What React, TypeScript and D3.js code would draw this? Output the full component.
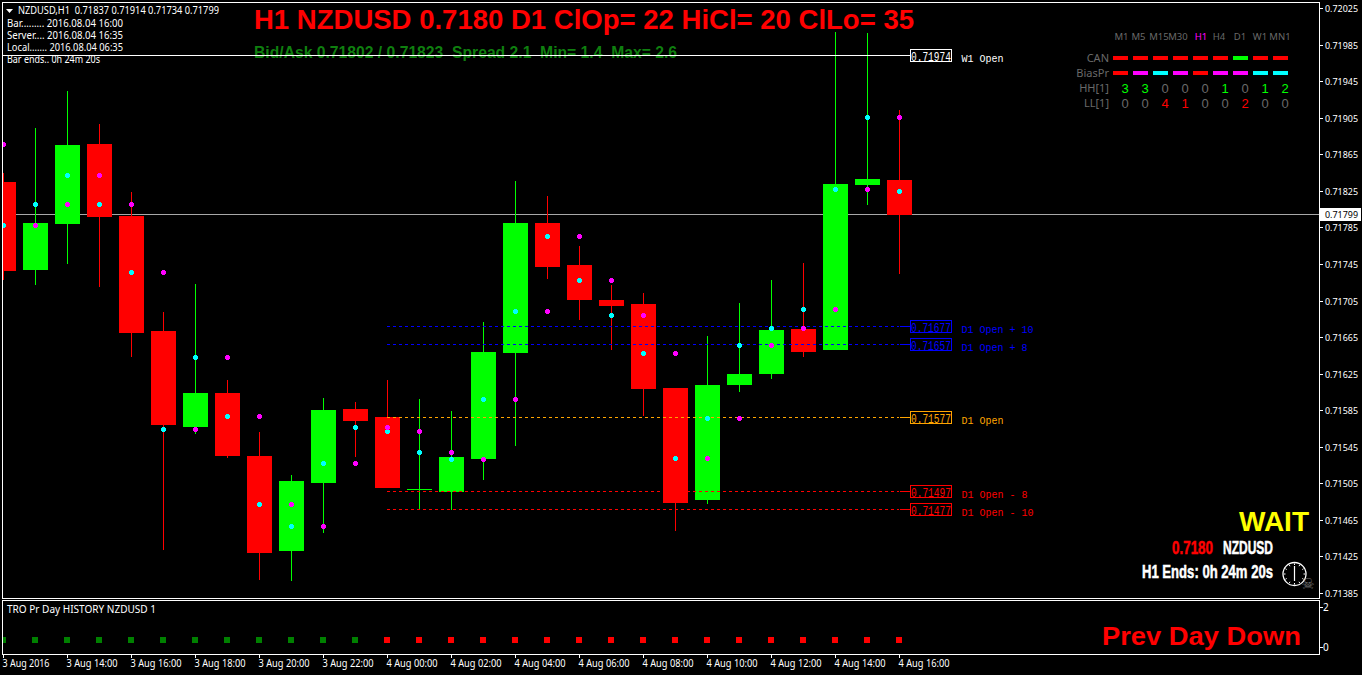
import React from "react";
import * as d3 from "d3";

const opens = [0.71835,0.71739,0.71789,0.71877,0.71798,0.71672,0.71567,0.71604,0.71535,0.71431,0.71506,0.71587,0.71578,0.71499,0.71496,0.71532,0.71648,0.7179,0.71744,0.71706,0.71702,0.7161,0.71487,0.71613,0.71625,0.71674,0.71651,0.71832,0.71837];
const highs = [0.71845,0.71894,0.71935,0.71899,0.71824,0.71693,0.71724,0.71619,0.71562,0.71515,0.71599,0.71595,0.71619,0.71598,0.71585,0.71682,0.71836,0.7182,0.71765,0.71722,0.71714,0.7161,0.71667,0.71703,0.71728,0.71747,0.71999,0.71998,0.71914];
const lows = [0.71728,0.71722,0.71745,0.7172,0.71644,0.71433,0.71559,0.71533,0.714,0.71399,0.71451,0.71534,0.715,0.71477,0.71476,0.71509,0.71546,0.71729,0.71684,0.71651,0.71579,0.71453,0.71483,0.71605,0.7162,0.71644,0.71651,0.7181,0.71734];
const closes = [0.71738,0.7179,0.71876,0.71797,0.7167,0.71569,0.71604,0.71535,0.71429,0.71508,0.71586,0.71574,0.715,0.71499,0.71534,0.71649,0.7179,0.71742,0.71706,0.71699,0.71609,0.71484,0.71613,0.71625,0.71673,0.71649,0.71833,0.71838,0.71799];
const cyanDots = [0.71788,0.7181,0.71842,0.71811,0.71736,0.71564,0.71643,0.71578,0.71482,0.71458,0.71527,0.71566,0.71562,0.71539,0.71532,0.71597,0.71693,0.71776,0.71727,0.71689,0.71648,0.71533,0.71576,0.71656,0.71675,0.71696,0.71827,0.71906,0.71825];
const magentaDots = [0.71876,0.71788,0.7181,0.71842,0.71811,0.71736,0.71564,0.71643,0.71578,0.71482,0.71458,0.71527,0.71566,0.71562,0.71539,0.71532,0.71597,0.71693,0.71776,0.71727,0.71689,0.71648,0.71533,0.71576,0.71656,0.71675,0.71696,0.71827,0.71906];
const historyUp = [1,1,1,1,1,1,1,1,1,1,1,1,0,0,0,0,0,0,0,0,0,0,0,0,0,0,0,0,0];
const priceTicks = ["0.72025","0.71985","0.71945","0.71905","0.71865","0.71825","0.71785","0.71745","0.71705","0.71665","0.71625","0.71585","0.71545","0.71505","0.71465","0.71425","0.71385"];
const timeLabels = ["3 Aug 2016","3 Aug 14:00","3 Aug 16:00","3 Aug 18:00","3 Aug 20:00","3 Aug 22:00","4 Aug 00:00","4 Aug 02:00","4 Aug 04:00","4 Aug 06:00","4 Aug 08:00","4 Aug 10:00","4 Aug 12:00","4 Aug 14:00","4 Aug 16:00"];
const levelPrices = [0.71974,0.71677,0.71657,0.71577,0.71497,0.71477];
const levelNames = ["W1 Open","D1 Open + 10","D1 Open + 8","D1 Open","D1 Open - 8","D1 Open - 10"];
const levelColors = ["#ffffff","#0000ff","#0000ff","#ffa500","#ff0000","#ff0000"];
const timeframes = ["M1","M5","M15","M30","H1","H4","D1","W1","MN1"];
const canColors = ["#ff0000","#ff0000","#ff0000","#ff0000","#ff0000","#ff0000","#00ff00","#ff0000","#ff0000"];
const biasColors = ["#ff0000","#ff00ff","#00ffff","#ff00ff","#ff0000","#ff00ff","#ff00ff","#00ffff","#00ffff"];
const hhValues = [3,3,0,0,0,1,0,1,2];
const llValues = [0,0,4,1,0,0,2,0,0];
const tfCenters = [1121.5,1138.5,1159,1178,1201,1219,1240,1260,1280];

const TAHOMA = "'Noto Sans', 'Open Sans', sans-serif";
const ARIAL = "'Liberation Sans', Arial, sans-serif";
const MONO = "'Liberation Mono', monospace";
const IMPACT = "'Liberation Sans Narrow', 'Liberation Sans', sans-serif";
const GREY = "#696969";

const x = d3.scaleLinear().domain([0, 28]).range([3.5, 899.5]);
const y = d3.scaleLinear().domain([0.72025, 0.71385]).range([8.5, 593.5]);
const px = (p: number) => Math.round(y(p) - 0.6);

function T(props: any) {
  const { len, children, f = TAHOMA, s = 10.5, c = "#ffffff", w, anchor, ...rest } = props;
  return (
    <text
      fontFamily={f}
      fontSize={s}
      fill={c}
      fontWeight={w}
      textAnchor={anchor}
      textLength={len}
      lengthAdjust={len ? "spacingAndGlyphs" : undefined}
      xmlSpace="preserve"
      {...rest}
    >
      {children}
    </text>
  );
}

function Dot({ cx, cy, color }: { cx: number; cy: number; color: string }) {
  const X = Math.round(cx);
  const Y = px(cy);
  return (
    <g fill={color} shapeRendering="crispEdges">
      <rect x={X - 2} y={Y - 1} width={5} height={3} />
      <rect x={X - 1} y={Y - 2} width={3} height={5} />
    </g>
  );
}

export default function App() {
  const n = opens.length;
  const idx = d3.range(n);
  return (
    <svg
      width={1362}
      height={675}
      style={{ position: "fixed", left: 0, top: 0, background: "#000", display: "block" }}
    >
      <defs>
        <clipPath id="plot">
          <rect x={3} y={3} width={1316} height={595} />
        </clipPath>
      </defs>
      <rect width={1362} height={675} fill="#000" />

      {/* frames */}
      <g fill="none" stroke="#fff" shapeRendering="crispEdges">
        <rect x={2.5} y={2.5} width={1317} height={596} />
        <rect x={2.5} y={600.5} width={1317} height={54} />
      </g>

      {/* current price line, behind candles */}
      <rect x={3} y={px(0.71799)} width={1316} height={1} fill="#a8a8a8" shapeRendering="crispEdges" />

      {/* candles */}
      <g clipPath="url(#plot)" shapeRendering="crispEdges">
        {idx.map((i) => {
          const up = closes[i] >= opens[i];
          const col = up ? "#00ff00" : "#ff0000";
          const cx = x(i);
          const a = Math.round(y(Math.max(opens[i], closes[i])));
          const b = Math.round(y(Math.min(opens[i], closes[i])));
          const hi = Math.round(y(highs[i]));
          const lo = Math.round(y(lows[i]));
          return (
            <g key={i} fill={col}>
              <rect x={Math.floor(cx)} y={hi} width={1} height={Math.max(1, lo - hi)} />
              <rect x={cx - 12.5} y={a} width={25} height={Math.max(1, b - a)} />
            </g>
          );
        })}
      </g>

      {/* level lines */}
      <g shapeRendering="crispEdges">
        {levelPrices.map((p, i) => {
          const ly = px(p);
          const lx = i === 0 ? 3 : 387;
          return (
            <g key={i}>
              <line
                x1={lx}
                x2={899}
                y1={ly + 0.5}
                y2={ly + 0.5}
                stroke={levelColors[i]}
                strokeDasharray={i === 0 ? undefined : "3 3"}
              />
              <rect x={900} y={ly} width={10} height={1} fill={levelColors[i]} />
              <rect x={910.5} y={ly - 5.5} width={41} height={12} fill="#000" stroke={levelColors[i]} />
            </g>
          );
        })}
      </g>
      {levelPrices.map((p, i) => {
        const ly = px(p);
        return (
          <g key={i}>
            <g transform={`translate(911,${ly + 6}) scale(0.733,1)`}>
              <T x={0} y={0} f={MONO} s={13} c={levelColors[i]}>
                {p.toFixed(5)}
              </T>
            </g>
            <T x={961.5} y={ly + 7} f={MONO} s={10} c={levelColors[i]}>
              {levelNames[i]}
            </T>
          </g>
        );
      })}

      {/* markers */}
      <g clipPath="url(#plot)">
        {idx.map((i) => (
          <g key={i}>
            <Dot cx={x(i) - 1} cy={cyanDots[i]} color="#00ffff" />
            <Dot cx={x(i) - 0.5} cy={magentaDots[i]} color="#ff00ff" />
          </g>
        ))}
      </g>

      {/* info panel */}
      <path d={d3.line()([[6, 9], [13, 9], [9.5, 13]]) + "Z"} fill="#fff" />
      <T x={18} y={14} len={201} s={11}>{"NZDUSD,H1  0.71837 0.71914 0.71734 0.71799"}</T>
      <T x={7} y={27} len={116}>{"Bar......... 2016.08.04 16:00"}</T>
      <T x={7} y={39} len={116}>{"Server.... 2016.08.04 16:35"}</T>
      <T x={7} y={51} len={116}>{"Local....... 2016.08.04 06:35"}</T>
      <T x={7} y={63} len={93}>{"Bar ends.. 0h 24m 20s"}</T>

      {/* headings */}
      <T x={254} y={29} f={ARIAL} s={28} w="bold" c="#ff0000" len={660}>
        {"H1 NZDUSD 0.7180 D1 ClOp= 22 HiCl= 20 ClLo= 35"}
      </T>
      <T x={254} y={58} f={ARIAL} s={16.5} w="bold" c="#0f7f0f" len={423}>
        {"Bid/Ask 0.71802 / 0.71823  Spread 2.1  Min= 1.4  Max= 2.6"}
      </T>
      <rect x={3} y={55} width={897} height={1} fill="#fff" shapeRendering="crispEdges" />

      {/* timeframe panel */}
      {timeframes.map((tf, i) => (
        <T key={tf} x={tfCenters[i]} y={40} anchor="middle" s={9.5} c={tf === "H1" ? "#ff00ff" : GREY}>
          {tf}
        </T>
      ))}
      <T x={1109} y={62} anchor="end" s={11} c={GREY}>CAN</T>
      <T x={1109} y={77} anchor="end" s={11} c={GREY}>BiasPr</T>
      <T x={1109} y={92} anchor="end" s={11} c={GREY}>HH[1]</T>
      <T x={1109} y={107} anchor="end" s={11} c={GREY}>LL[1]</T>
      <g shapeRendering="crispEdges">
        {canColors.map((c, i) => (
          <rect key={i} x={1113 + 20 * i} y={56} width={15} height={4} fill={c} />
        ))}
        {biasColors.map((c, i) => (
          <rect key={i} x={1113 + 20 * i} y={71} width={15} height={4} fill={c} />
        ))}
      </g>
      {hhValues.map((v, i) => (
        <T key={i} x={1125 + 20 * i} y={93} anchor="middle" f={ARIAL} s={13} c={v > 0 ? "#00ff00" : GREY}>
          {v}
        </T>
      ))}
      {llValues.map((v, i) => (
        <T key={i} x={1125 + 20 * i} y={108} anchor="middle" f={ARIAL} s={13} c={v > 0 ? "#ff0000" : GREY}>
          {v}
        </T>
      ))}

      {/* bottom-right panel */}
      <T x={1239} y={531} f={ARIAL} s={28} w="bold" c="#ffff00" len={70}>WAIT</T>
      <T x={1172} y={554} f={IMPACT} s={18} w="bold" c="#ff0000" stroke="#ff0000" strokeWidth={0.5} len={41}>0.7180</T>
      <T x={1223} y={554} f={IMPACT} s={18} w="bold" stroke="#ffffff" strokeWidth={0.5} len={50}>NZDUSD</T>
      <T x={1142} y={578} f={IMPACT} s={18} w="bold" stroke="#ffffff" strokeWidth={0.5} len={131}>H1 Ends: 0h 24m 20s</T>
      <g>
        <circle cx={1294.5} cy={574} r={11.5} fill="none" stroke="#fff" strokeWidth={1.3} />
        {d3.range(12).map((h) => {
          const ang = (h * Math.PI) / 6;
          return (
            <line
              key={h}
              x1={1294.5 + 9 * Math.sin(ang)}
              y1={574 - 9 * Math.cos(ang)}
              x2={1294.5 + 10.5 * Math.sin(ang)}
              y2={574 - 10.5 * Math.cos(ang)}
              stroke="#fff"
            />
          );
        })}
        <line x1={1294.5} x2={1294.5} y1={566} y2={581} stroke="#fff" strokeWidth={1.2} />
        <T x={1308} y={589} anchor="middle" f="'DejaVu Sans', sans-serif" s={15} c="#707070">☠</T>
      </g>

      {/* price axis */}
      <g shapeRendering="crispEdges">
        {priceTicks.map((t) => (
          <rect key={t} x={1320} y={Math.floor(y(+t))} width={3} height={1} fill="#fff" />
        ))}
      </g>
      {priceTicks.map((t) => (
        <T key={t} x={1325} y={Math.floor(y(+t)) + 4} s={9.6} len={33}>
          {t}
        </T>
      ))}
      <rect x={1320} y={px(0.71799) - 6} width={41} height={13} fill="#fff" />
      <T x={1325} y={px(0.71799) + 4} s={9.6} c="#000" len={33}>0.71799</T>

      {/* sub window */}
      <T x={7} y={613} len={149}>TRO Pr Day HISTORY NZDUSD 1</T>
      <g shapeRendering="crispEdges">
        {historyUp.map((u, i) => (
          <rect
            key={i}
            x={Math.max(3, x(i) - 3.5)}
            y={637}
            width={i === 0 ? 3 : 6}
            height={6}
            fill={u ? "#008000" : "#ff0000"}
          />
        ))}
      </g>
      <T x={1102} y={645} f={ARIAL} s={26} w="bold" c="#ff0000" len={199}>Prev Day Down</T>
      <rect x={1320} y={607} width={3} height={1} fill="#fff" />
      <rect x={1320} y={647} width={3} height={1} fill="#fff" />
      <T x={1323} y={611} s={10}>2</T>
      <T x={1323} y={651} s={10}>0</T>

      {/* time axis */}
      <g shapeRendering="crispEdges">
        {timeLabels.map((_, i) => (
          <rect key={i} x={Math.floor(x(i * 2))} y={655} width={1} height={3} fill="#fff" />
        ))}
      </g>
      {timeLabels.map((t, i) => (
        <T key={t} x={x(i * 2) - 1} y={667} s={10} len={i === 0 ? 47 : 51}>
          {t}
        </T>
      ))}
    </svg>
  );
}
